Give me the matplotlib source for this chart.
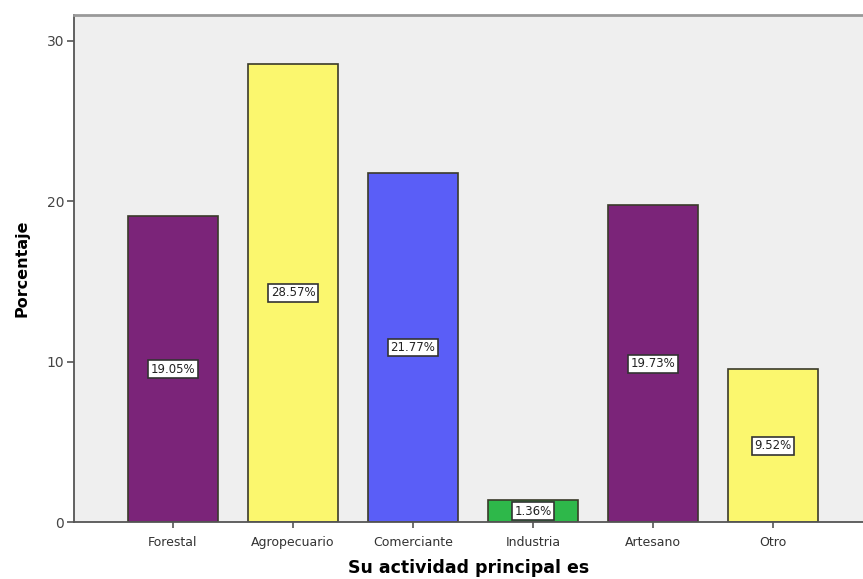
import matplotlib
matplotlib.use("Agg")
import matplotlib.pyplot as plt

categorias = ["Forestal", "Agropecuario", "Comerciante", "Industria", "Artesano", "Otro"]
porcentajes = [19.05, 28.57, 21.77, 1.36, 19.73, 9.52]
colores = ["#7b2479", "#fbf76e", "#5a5ef7", "#2eb84a", "#7b2479", "#fbf76e"]
yticks = [0, 10, 20, 30]

plt.rcParams['font.family'] = ['DejaVu Sans']

fig = plt.figure(figsize=(8.63, 5.79), dpi=100)
ax = fig.add_axes([0.0857, 0.0984, 0.9143, 0.8756])
ax.set_facecolor('#efefef')

x = list(range(len(categorias)))
ax.bar(x, porcentajes, width=0.75, color=colores, edgecolor='#3a3a2a', linewidth=1.2, zorder=2)

for xi, v in zip(x, porcentajes):
    ax.text(xi, v / 2, f"{v:.2f}%", ha='center', va='center', fontsize=8.5,
            color='#222222', zorder=3,
            bbox=dict(boxstyle='square,pad=0.2', facecolor='white', edgecolor='#333333', linewidth=1.2))

ax.set_xlim(-0.825, 5.75)
ax.set_ylim(0, 31.6)
ax.set_xticks(x)
ax.set_xticklabels(categorias, fontsize=9, color='#333333')
ax.set_yticks(yticks)
ax.set_yticklabels([str(t) for t in yticks], fontsize=10, color='#444444')
ax.tick_params(axis='x', length=4, width=1.2, color='#555555', pad=6)
ax.tick_params(axis='y', length=5, width=1.2, color='#555555', pad=2)

ax.spines['right'].set_visible(False)
ax.spines['top'].set_color('#999999')
ax.spines['top'].set_linewidth(2)
ax.spines['left'].set_color('#555555')
ax.spines['left'].set_linewidth(1.3)
ax.spines['bottom'].set_color('#555555')
ax.spines['bottom'].set_linewidth(1.3)

ax.set_xlabel("Su actividad principal es", fontsize=12.5, fontweight='bold', labelpad=7)
ax.set_ylabel("Porcentaje", fontsize=11.5, fontweight='bold', labelpad=12)

fig.savefig("out.png", dpi=100)
